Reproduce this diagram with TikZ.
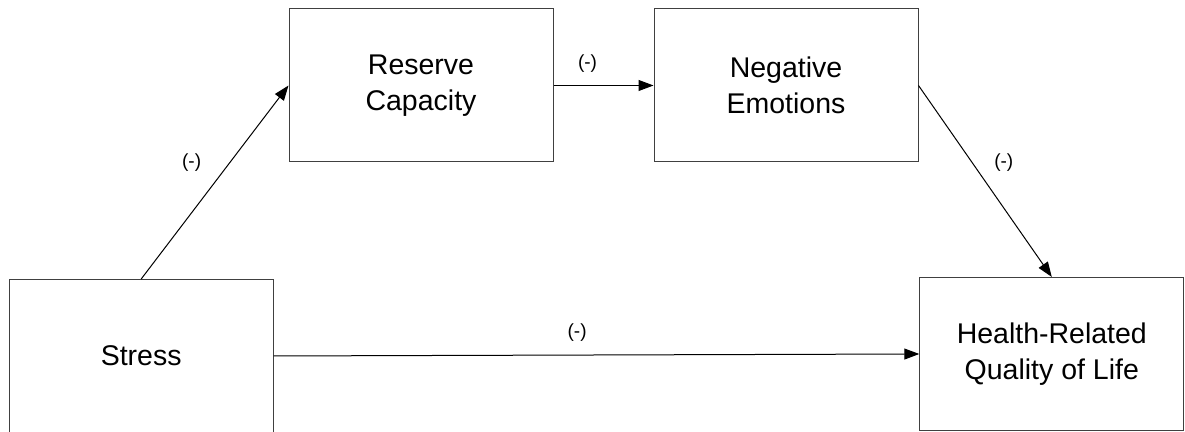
\documentclass[tikz,border=0pt]{standalone}
\usepackage{fontspec}
\setmainfont{Liberation Sans}
\usepackage{tikz}
\usetikzlibrary{arrows.meta}
\tikzset{edge/.style = {->,> = {Triangle[length=7.5pt,width=5.5pt]}}}

\begin{document}
\begin{tikzpicture}[line width=0.5pt,
  main node/.style={rectangle,draw=black!75,minimum width=132pt,minimum height=76.5pt,
    align=center,font=\fontsize{14.25}{18}\selectfont},
  sign/.style={inner sep=0pt,font=\fontsize{9.5}{11}\selectfont}]
            \useasboundingbox (0pt,0pt) rectangle (592.5pt,216pt);
            \node[main node] (stress) at (70.6pt,38pt) {Stress};
            \node[main node] (reserve) at (210.5pt,173.25pt) {Reserve\\Capacity};
            \node[main node] (negative) at (393pt,173.25pt) {Negative\\Emotions};
            \node[main node] (health) at (525.9pt,39pt) {Health-Related\\Quality of Life};

            %\path[edge] (stress) edge (health);
            \path[edge,every node/.style={sign}]
                (stress.north) edge node [pos=0.6,left=14pt] {(-)} (reserve.west)
                (reserve.east) edge node [pos=0.34,above=6.5pt] {(-)} (negative.west)
                (negative.east) edge node [pos=0.4,right=11pt] {(-)} (health.north)
                (stress.east) edge node [pos=0.47,above=6.5pt] {(-)} (health.west)
                ;
        \end{tikzpicture}
\end{document}
